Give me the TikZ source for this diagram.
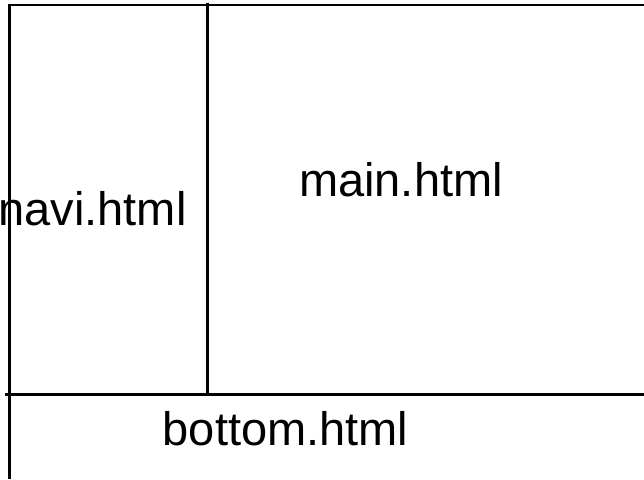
\documentclass[tikz,border=0pt]{standalone}
\usepackage{fontspec}
\setmainfont{Liberation Sans}

\tikzset{
	framestroke/.style={line width=2.5pt},
	pagetext/.style={inner sep=0pt,anchor=base,font=\fontsize{47}{56}\selectfont}
}

\begin{document}
\begin{tikzpicture}[x=1pt,y=-1pt]
	\useasboundingbox (0,0) rectangle (644,479);
	% frame lines
	\coordinate (topleft) at (8,5);
	\coordinate (topright) at (644,5);
	\coordinate (leftbot) at (9.3,479);
	\coordinate (midtop) at (207.3,2.7);
	\coordinate (midbot) at (207.3,394.5);
	\coordinate (splitleft) at (5,394.5);
	\coordinate (splitright) at (644,394.5);
	\draw[framestroke] (topleft) -- (topright);
	\draw[framestroke] (9.3,5) -- (leftbot);
	\draw[framestroke] (midtop) -- (midbot);
	\draw[framestroke] (splitleft) -- (splitright);
	% page names
	\node[pagetext] (navi) at (92.5,225) {navi.html};
	\node[pagetext] (main) at (401,196) {main.html};
	\node[pagetext] (bottom) at (285.5,445) {bottom.html};
\end{tikzpicture}
\end{document}
